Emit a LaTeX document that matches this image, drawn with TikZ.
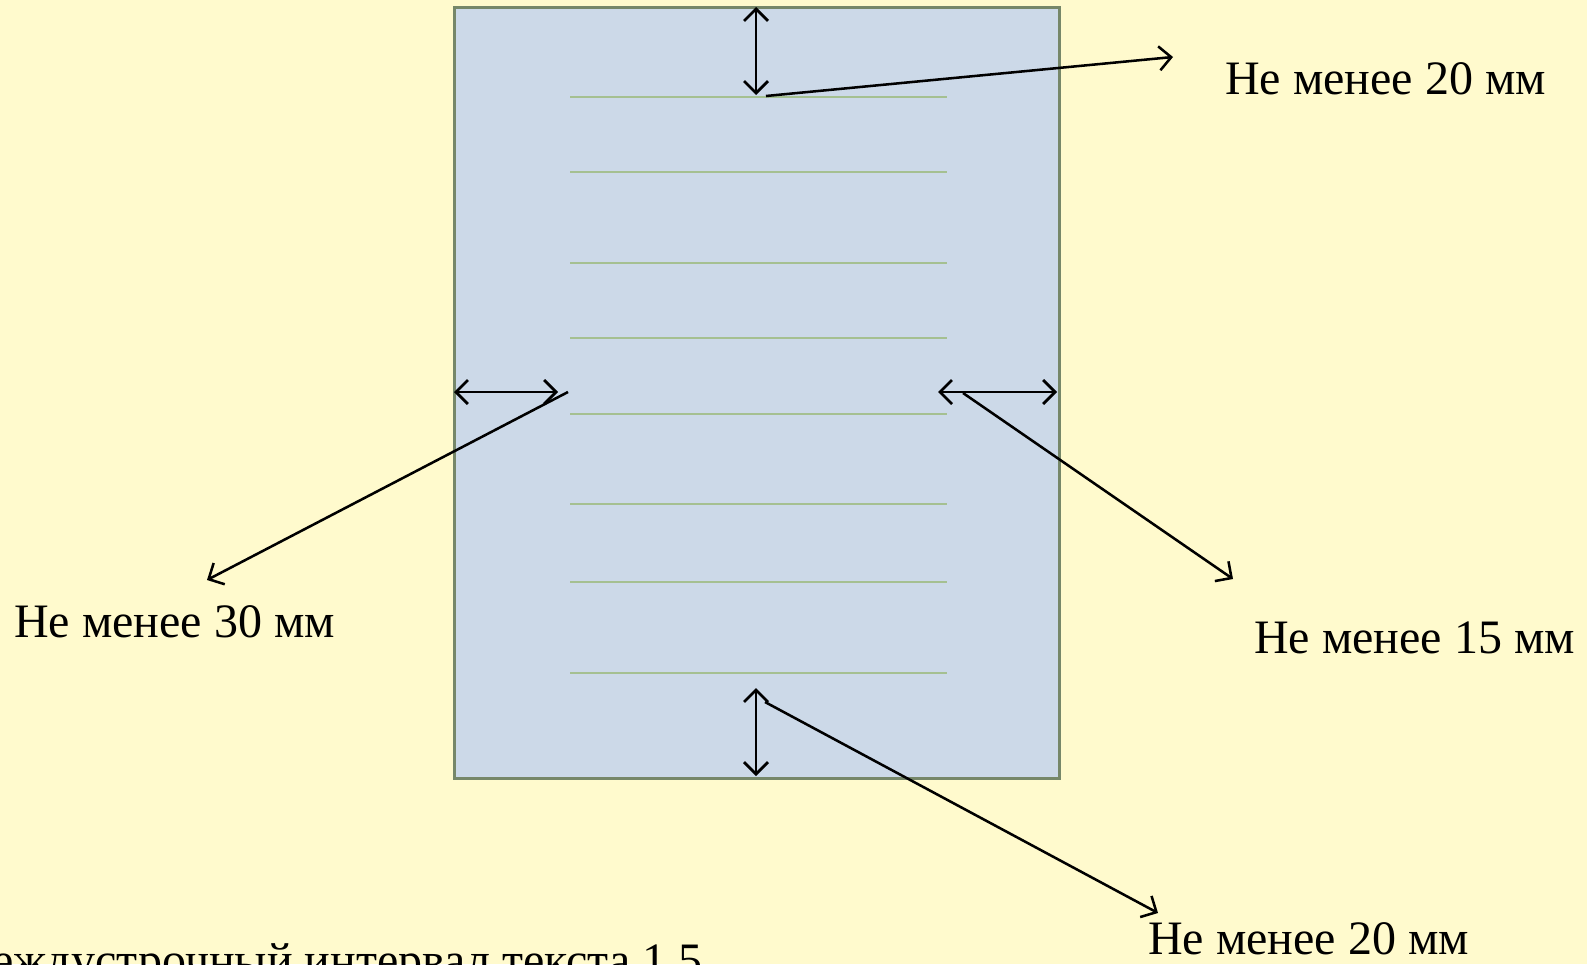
\documentclass[tikz,border=0pt]{standalone}
\usepackage{fontspec}
\setmainfont{Liberation Serif}
\usetikzlibrary{arrows.meta}
\definecolor{bgc}{RGB}{255,250,205}
\definecolor{pagefill}{RGB}{204,217,232}
\definecolor{pageborder}{RGB}{118,135,105}
\definecolor{rulec}{RGB}{165,192,145}
\tikzset{
  lbl/.style={font=\fontsize{36}{40}\selectfont, inner sep=0pt, text=black},
  dim/.style={draw=black, line width=2.1pt, {Straight Barb[length=9pt,width=18pt,line width=2.1pt]}-{Straight Barb[length=9pt,width=18pt,line width=2.1pt]}},
  lead/.style={draw=black, line width=1.9pt, -{Straight Barb[length=9pt,width=18pt,line width=1.9pt]}},
  rul/.style={draw=rulec, line width=1.3pt}
}
\begin{document}
\begin{tikzpicture}[x=0.75pt,y=-0.75pt]
\useasboundingbox (0,0) rectangle (1587,964);
\fill[bgc] (0,0) rectangle (1587,964);
\node[draw=pageborder, fill=pagefill, line width=2.2pt, minimum width=605*0.75pt, minimum height=771*0.75pt, inner sep=0pt, anchor=north west] (page) at (453,6) {};
% text lines
\foreach \y in {97,172,263,338,414,504,582,673} {
  \draw[rul] (570,\y) -- (947,\y);
}
% coordinates
\coordinate (tA) at (756,7);
\coordinate (tB) at (756,95);
\coordinate (tL) at (766,96);
\coordinate (tE) at (1173,57);
\coordinate (lA) at (454,392);
\coordinate (lB) at (558,392);
\coordinate (lL) at (568,392);
\coordinate (lE) at (207,580);
\coordinate (rA) at (938,392);
\coordinate (rB) at (1057,392);
\coordinate (rL) at (963,393);
\coordinate (rE) at (1233,579);
\coordinate (bA) at (756,688);
\coordinate (bB) at (756,776);
\coordinate (bL) at (765,702);
\coordinate (bE) at (1158,913);
% dimension arrows
\draw[dim] (tA) -- (tB);
\draw[dim] (lA) -- (lB);
\draw[dim] (rA) -- (rB);
\draw[dim] (bA) -- (bB);
% leaders
\draw[lead] (tL) -- (tE);
\draw[lead] (lL) -- (lE);
\draw[lead] (rL) -- (rE);
\draw[lead] (bL) -- (bE);
% labels
\node[lbl, anchor=base west] (t1) at (1225,94) {Не менее 20 мм};
\node[lbl, anchor=base west] (t2) at (14,637) {Не менее 30 мм};
\node[lbl, anchor=base west] (t3) at (1254,653) {Не менее 15 мм};
\node[lbl, anchor=base west] (t4) at (1148,954) {Не менее 20 мм};
\node[lbl, anchor=base east] (t5) at (703,976) {Междустрочный интервал текста 1,5};
\end{tikzpicture}
\end{document}
